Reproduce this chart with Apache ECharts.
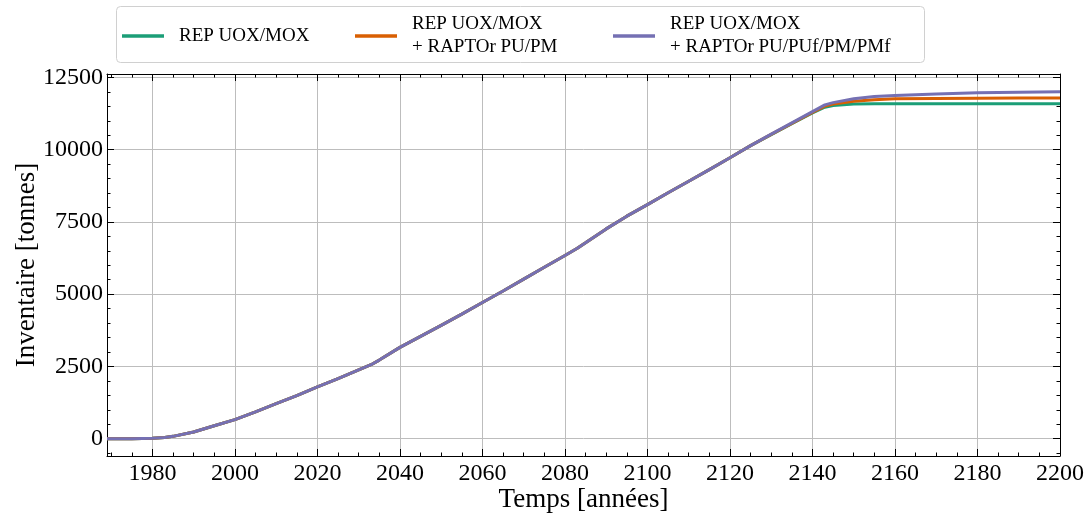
<!DOCTYPE html>
<html>
<head>
<meta charset="utf-8">
<title>Inventaire</title>
<script src="https://cdn.jsdelivr.net/npm/echarts@6/dist/echarts.min.js"></script>
<style>
  html, body { margin: 0; padding: 0; background: #fff; }
  #chart { width: 1091px; height: 516px; }
</style>
</head>
<body>
<div id="chart"></div>
<script>
// years (x) and inventories in tonnes
var years = [1969, 1975, 1980, 1983, 1985, 1990, 1995, 2000, 2005, 2010, 2015, 2020, 2025, 2030, 2033, 2035,
    2040, 2045, 2050, 2055, 2060, 2065, 2070, 2075, 2080, 2083, 2085, 2090, 2095, 2100, 2105, 2110,
    2115, 2120, 2125, 2130, 2135, 2140, 2143, 2145, 2150, 2155, 2160, 2170, 2180, 2190, 2200];

var repUoxMox = [0, 0, 15, 40, 80, 230, 445, 660, 930, 1210, 1490, 1790, 2080, 2380, 2560, 2720,
    3160, 3540, 3920, 4310, 4710, 5110, 5520, 5930, 6340, 6590, 6780, 7260, 7700, 8100, 8510, 8910,
    9310, 9720, 10140, 10520, 10900, 11270, 11470, 11530, 11580, 11590, 11590, 11590, 11590, 11590, 11590];

var raptorPuPm = [0, 0, 15, 40, 80, 230, 445, 660, 930, 1210, 1490, 1790, 2080, 2380, 2560, 2720,
    3160, 3540, 3920, 4310, 4710, 5110, 5520, 5930, 6340, 6590, 6780, 7260, 7700, 8100, 8510, 8910,
    9310, 9720, 10140, 10530, 10910, 11290, 11510, 11580, 11680, 11730, 11760, 11770, 11780, 11790, 11790];

var raptorPuPufPmPmf = [0, 0, 15, 40, 80, 230, 445, 660, 930, 1210, 1490, 1790, 2080, 2380, 2560, 2720,
    3160, 3540, 3920, 4310, 4710, 5110, 5520, 5930, 6340, 6590, 6780, 7260, 7700, 8100, 8510, 8910,
    9310, 9720, 10140, 10540, 10930, 11320, 11550, 11630, 11760, 11840, 11880, 11930, 11970, 11990, 12010];

var seriesNames = ['REP UOX/MOX', 'REP UOX/MOX\n+ RAPTOr PU/PM', 'REP UOX/MOX\n+ RAPTOr PU/PUf/PM/PMf'];

var FONT = 'Liberation Serif';
var chart = echarts.init(document.getElementById('chart'));

function pairs(vals) {
    return years.map(function (y, i) { return [y, vals[i]]; });
}

function plain(v) { return String(v); }

function xAxisConf(pos, labels) {
    return {
        type: 'value', position: pos, min: 1969, max: 2200,
        minInterval: 20, maxInterval: 20, splitNumber: 11,
        name: labels ? 'Temps [années]' : '', nameLocation: 'middle', nameGap: 30, nameMoveOverlap: false,
        nameTextStyle: { fontFamily: FONT, fontSize: 27, color: '#000' },
        axisLine: { show: true, onZero: false, lineStyle: { color: '#000', width: 1 } },
        axisTick: { show: true, inside: true, length: 7, lineStyle: { color: '#000' } },
        minorTick: { show: true, splitNumber: 4, length: 3.5, lineStyle: { color: '#000' } },
        axisLabel: { show: labels, margin: 6, showMinLabel: false, formatter: plain,
            fontFamily: FONT, fontSize: 24, color: '#000' },
        splitLine: { show: labels, lineStyle: { color: '#bdbdbd', width: 1 } }
    };
}

function yAxisConf(pos, labels) {
    return {
        type: 'value', position: pos, min: -600, max: 12620,
        minInterval: 2500, maxInterval: 2500, splitNumber: 5,
        name: labels ? 'Inventaire [tonnes]' : '', nameLocation: 'middle', nameGap: 67, nameMoveOverlap: false,
        nameTextStyle: { fontFamily: FONT, fontSize: 27, color: '#000' },
        axisLine: { show: true, onZero: false, lineStyle: { color: '#000', width: 1 } },
        axisTick: { show: true, inside: true, length: 7, lineStyle: { color: '#000' } },
        minorTick: { show: true, splitNumber: 5, length: 3.5, lineStyle: { color: '#000' } },
        axisLabel: { show: labels, margin: 4, showMinLabel: false, showMaxLabel: false, formatter: plain,
            fontFamily: FONT, fontSize: 24, color: '#000' },
        splitLine: { show: labels, lineStyle: { color: '#bdbdbd', width: 1 } }
    };
}

function legendConf(name, left, lines) {
    return {
        data: [name], left: left, top: 36 - lines * 11.5, padding: 0,
        icon: 'rect', itemWidth: 42, itemHeight: 3.5, selectedMode: false,
        textStyle: { fontFamily: FONT, fontSize: 19, color: '#000', lineHeight: 23, padding: [0, 0, 0, 10] }
    };
}

var colors = ['#1b9e77', '#d95f02', '#7570b3'];

chart.setOption({
    animation: false,
    backgroundColor: '#fff',
    grid: { left: 107, right: 31, top: 74, bottom: 60, containLabel: false, outerBoundsMode: 'none' },
    graphic: [{
        type: 'rect', left: 116, top: 6, z: -1,
        shape: { width: 808, height: 56, r: 4 },
        style: { fill: '#fff', stroke: '#d0d0d0', lineWidth: 1 }
    }],
    legend: [
        legendConf(seriesNames[0], 122, 1),
        legendConf(seriesNames[1], 355, 2),
        legendConf(seriesNames[2], 613, 2)
    ],
    xAxis: [xAxisConf('bottom', true), xAxisConf('top', false)],
    yAxis: [yAxisConf('left', true), yAxisConf('right', false)],
    series: [repUoxMox, raptorPuPm, raptorPuPufPmPmf].map(function (vals, i) {
        return {
            name: seriesNames[i], type: 'line', xAxisIndex: 0, yAxisIndex: 0,
            data: pairs(vals), showSymbol: false, symbol: 'none',
            color: colors[i], lineStyle: { width: 3, color: colors[i] }
        };
    })
});
</script>
</body>
</html>
